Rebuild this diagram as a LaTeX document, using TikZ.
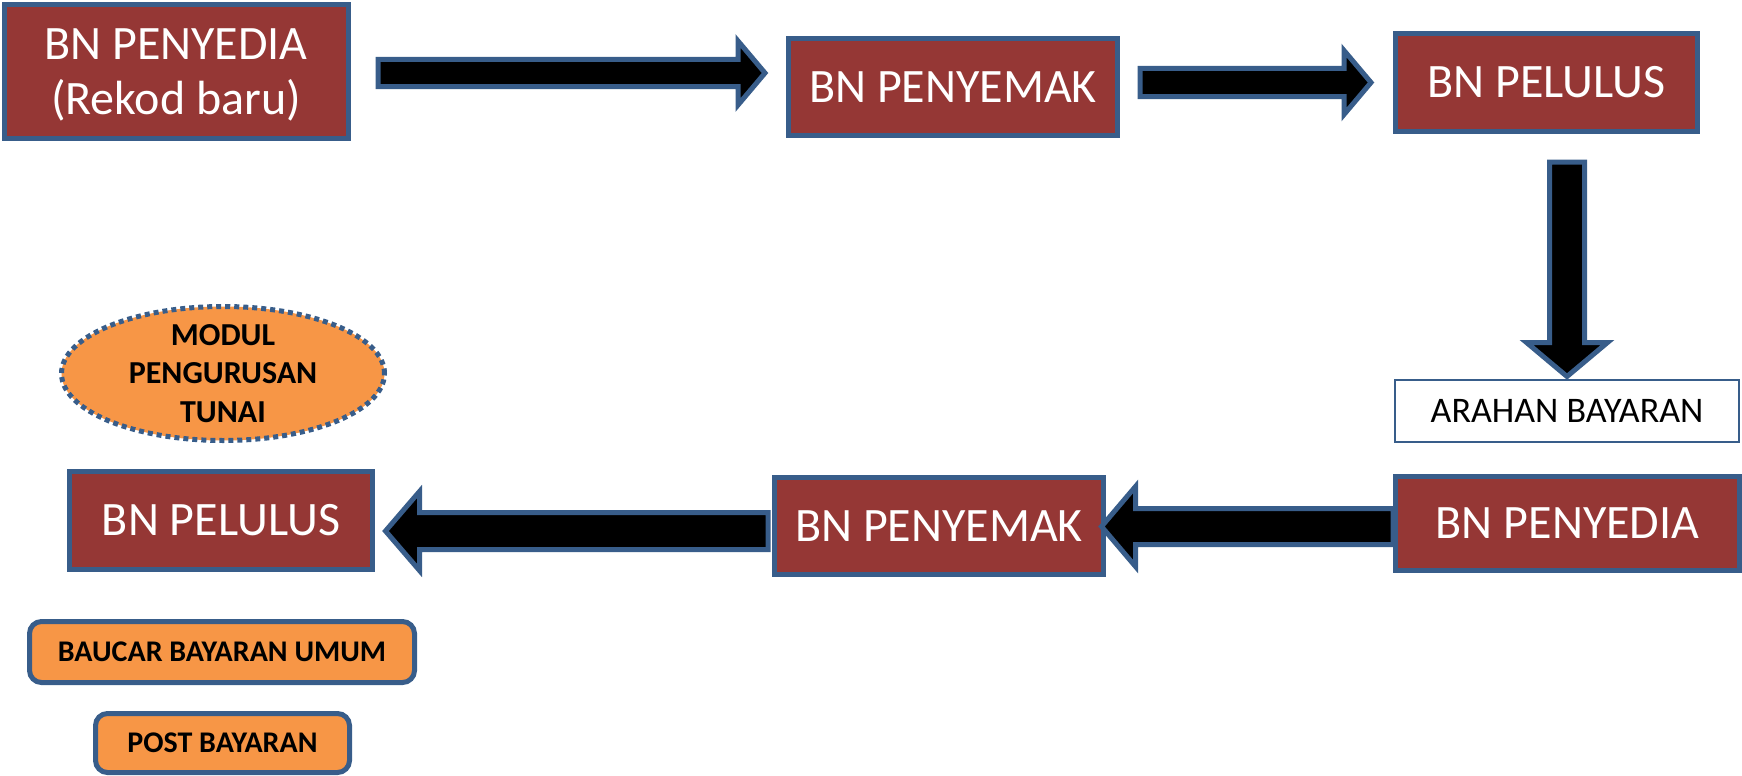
\documentclass[tikz,border=0pt]{standalone}
\usepackage{fontspec}
\setmainfont{Carlito}
\usetikzlibrary{calc,shapes.geometric}
\definecolor{bnred}{HTML}{953735}
\definecolor{bnblue}{HTML}{385D8A}
\definecolor{bnorange}{HTML}{F79646}
\begin{document}
\begin{tikzpicture}[x=1pt,y=-1pt,
    main node/.style={draw=bnblue,line width=5pt,fill=bnred,text=white,align=center,inner sep=0pt,font=\fontsize{48}{55}\selectfont},
    note node/.style={draw=bnblue,line width=5pt,fill=bnorange,rounded corners=12pt,inner sep=0pt,font=\fontsize{30}{38}\selectfont\bfseries},
    block arrow/.style n args={3}{draw=bnblue,line width=5pt,fill=black,miter limit=10,
        to path={let \p1=($(\tikztotarget)!#3!(\tikztostart)$) in
            ($(\tikztostart)!#1!90:(\tikztotarget)$) -- ($(\p1)!#1!90:(\tikztotarget)$)
            -- ($(\p1)!#2!90:(\tikztotarget)$) -- (\tikztotarget)
            -- ($(\p1)!#2!-90:(\tikztotarget)$) -- ($(\p1)!#1!-90:(\tikztotarget)$)
            -- ($(\tikztostart)!#1!-90:(\tikztotarget)$) -- cycle}}]
    \useasboundingbox (0,0) rectangle (1742,776);
    \node[main node,minimum width=344pt,minimum height=134pt,text depth=0pt] (1) at (176,71.5) {BN PENYEDIA\\(Rekod baru)};
    \node[main node,minimum width=329pt,minimum height=97pt] (2) at (953,87) {BN PENYEMAK};
    \node[main node,minimum width=302pt,minimum height=97pt] (3) at (1546.5,82.5) {BN PELULUS};
    \node[draw=bnblue,line width=2pt,minimum width=344pt,minimum height=62pt,inner sep=0pt,font=\fontsize{36}{43}\selectfont] (4) at (1567,411) {ARAHAN BAYARAN};
    \node[main node,minimum width=344pt,minimum height=94pt] (5) at (1567.5,523.5) {BN PENYEDIA};
    \node[main node,minimum width=329pt,minimum height=97pt] (6) at (939,526) {BN PENYEMAK};
    \node[main node,minimum width=303pt,minimum height=98pt] (7) at (221,520.5) {BN PELULUS};
    \node[ellipse,draw=bnblue,line width=5pt,dash pattern=on 5pt off 4pt,fill=bnorange,
        minimum width=323pt,minimum height=134pt,inner xsep=0pt,inner ysep=-10pt,align=center,
        font=\fontsize{32}{38.3}\selectfont\bfseries] (8) at (223,373.5) {MODUL\\PENGURUSAN\\TUNAI};
    \node[note node,minimum width=385pt,minimum height=61pt] (9) at (222,652) {BAUCAR BAYARAN UMUM};
    \node[note node,minimum width=254pt,minimum height=59pt] (10) at (222.5,743) {POST BAYARAN};
    % arrow ends
    \coordinate (1s) at (378,73);
    \coordinate (1t) at (765,73);
    \coordinate (2s) at (1140,82.5);
    \coordinate (2t) at (1371,82.5);
    \coordinate (3s) at (1567,162);
    \coordinate (3t) at (1567,376.5);
    \coordinate (5s) at (1393,526.5);
    \coordinate (5t) at (1101.5,526.5);
    \coordinate (6s) at (768,531);
    \coordinate (6t) at (385.5,531);
    \draw[block arrow={13.5pt}{32pt}{27pt}] (1s) to (1t);
    \draw[block arrow={14pt}{32pt}{27pt}] (2s) to (2t);
    \draw[block arrow={17.5pt}{40.5pt}{34pt}] (3s) to (3t);
    \draw[block arrow={18pt}{40pt}{34pt}] (5s) to (5t);
    \draw[block arrow={18.5pt}{39.5pt}{34pt}] (6s) to (6t);
\end{tikzpicture}
\end{document}
